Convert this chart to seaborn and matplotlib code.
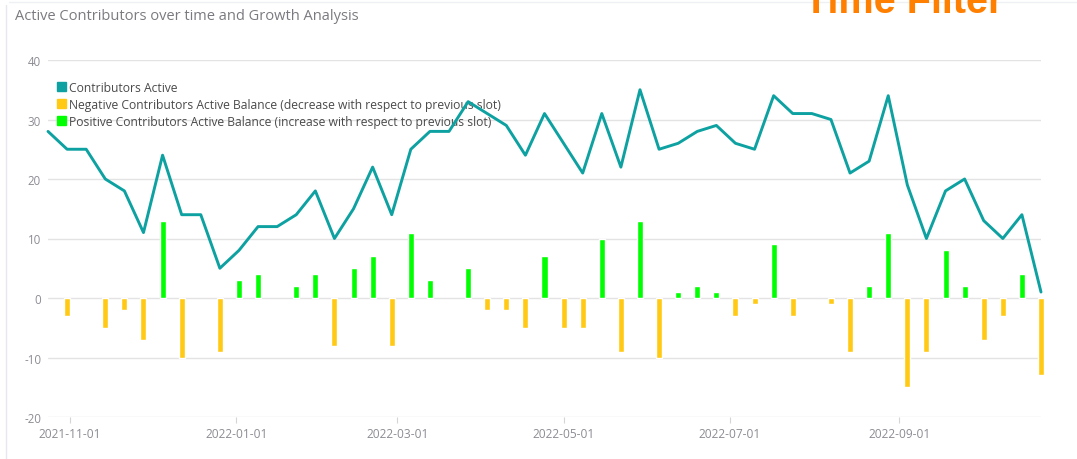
import numpy as np
import pandas as pd
import matplotlib
matplotlib.use("Agg")
from matplotlib import pyplot as plt
from matplotlib.patches import Patch
import matplotlib.dates as mdates
import seaborn as sns

# weekly slots
start_date = "2021-10-24"
active = [28, 25, 25, 20, 18, 11, 24, 14, 14, 5,
          8, 12, 12, 14, 18, 10, 15, 22, 14, 25,
          28, 28, 33, 31, 29, 24, 31, 26, 21, 31,
          22, 35, 25, 26, 28, 29, 26, 25, 34, 31,
          31, 30, 21, 23, 34, 19, 10, 18, 20, 13,
          10, 14, 1]
# balance with respect to previous slot (first slot has none)
balance = [0, -3, 0, -5, -2, -7, 13, -10, 0, -9, 3,
           4, 0, 2, 4, -8, 5, 7, -8, 11, 3,
           0, 5, -2, -2, -5, 7, -5, -5, 10, -9,
           13, -10, 1, 2, 1, -3, -1, 9, -3, 0,
           -1, -9, 2, 11, -15, -9, 8, 2, -7, -3,
           4, -13]
yticks = [-20, -10, 0, 10, 20, 30, 40]
xticks = ["2021-11-01", "2022-01-01", "2022-03-01", "2022-05-01",
          "2022-07-01", "2022-09-01"]

dates = pd.date_range(start_date, periods=len(active), freq="7D")
df = pd.DataFrame({"date": dates, "active": active, "balance": balance})
neg_df = df[df["balance"] < 0]
pos_df = df[df["balance"] > 0]

LINE = "#0ea1a1"
NEG = "#ffc914"
POS = "#00ff00"
GRID = "#e3e3e3"
TICK = "#8c8c94"

sns.set_theme(style="white")
plt.rcParams["font.family"] = ["Open Sans", "DejaVu Sans"]

fig = plt.figure(figsize=(10.77, 4.60), dpi=100)
ax = fig.add_axes([48 / 1077, 42 / 460, (1041 - 48) / 1077, (418 - 61) / 460])

# bars
bw = pd.Timedelta(days=2.2)
ax.bar(neg_df["date"], neg_df["balance"], width=bw, color=NEG, zorder=2, clip_on=False)
ax.bar(pos_df["date"], pos_df["balance"], width=bw, color=POS, zorder=2, clip_on=False)

# line
sns.lineplot(data=df, x="date", y="active", ax=ax, color=LINE, linewidth=2.1,
             zorder=4, clip_on=False)

ax.set_ylim(-20, 40)
ax.set_xlim(dates[0], dates[-1])
ax.set_yticks(yticks)
ax.set_yticklabels([str(v) for v in yticks])
ax.set_xticks(pd.to_datetime(xticks))
ax.xaxis.set_major_formatter(mdates.DateFormatter("%Y-%m-%d"))
ax.grid(axis="y", color=GRID, linewidth=1.0)
ax.grid(axis="x", visible=False)
for s in ax.spines.values():
    s.set_visible(False)
ax.tick_params(axis="y", length=0, pad=5, labelsize=8.3, labelcolor=TICK)
ax.tick_params(axis="x", length=4, width=0.8, color="#d5d5d5", pad=3,
               labelsize=8.6, labelcolor=TICK, bottom=True)
ax.set_xlabel("")
ax.set_ylabel("")

handles = [Patch(color=LINE), Patch(color=NEG), Patch(color=POS)]
labels = ["Contributors Active",
          "Negative Contributors Active Balance (decrease with respect to previous slot)",
          "Positive Contributors Active Balance (increase with respect to previous slot)"]
leg = ax.legend(handles, labels, loc="upper left", bbox_to_anchor=(0.004, 0.955),
                frameon=False, fontsize=8.7, handlelength=0.72, handleheight=0.72,
                handletextpad=0.25, labelspacing=0.33, borderaxespad=0)
for t in leg.get_texts():
    t.set_color("#4a4a4a")
leg.set_zorder(1)

# card border
fig.add_artist(plt.Line2D([5.5 / 1077, 5.5 / 1077], [0, 1 - 6 / 460],
                          transform=fig.transFigure, color="#e6e8ef", linewidth=1))
fig.add_artist(plt.Line2D([9 / 1077, 1], [1 - 2.5 / 460, 1 - 2.5 / 460],
                          transform=fig.transFigure, color="#eef0f4", linewidth=1))

fig.text(15 / 1077, 1 - 16 / 460, "Active Contributors over time and Growth Analysis",
         fontsize=10.5, color="#7a7a80", va="center", ha="left")
fig.text(804 / 1077, 1 - 13 / 460, "Time Filter", fontsize=28.5, color="#ff7f00",
         fontweight="bold", family=["Liberation Sans", "DejaVu Sans"],
         va="baseline", ha="left")

fig.savefig("out.png", dpi=100)
